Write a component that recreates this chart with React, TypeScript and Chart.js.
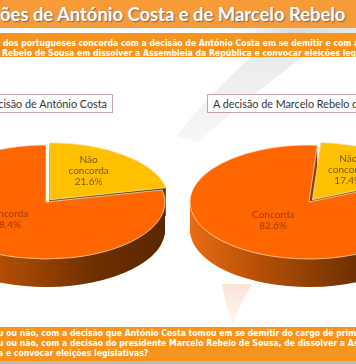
import React, { useEffect, useRef } from 'react';
import { Chart, registerables } from 'chart.js';

Chart.register(...registerables);

// ---------- data ----------
const sliceLabels = ['Não concorda', 'Concorda'];
const costaValues = [21.6, 78.4];
const marceloValues = [17.4, 82.6];
const chartTitles = ['A decisão de António Costa', 'A decisão de Marcelo Rebelo de Sousa'];
const headlineText = 'ões de António Costa e de Marcelo Rebelo';
const subtitleLines = [
  'dos portugueses concorda com a decisão de António Costa em se demitir e com a decisão',
  'Rebelo de Sousa em dissolver a Assembleia da República e convocar eleições legislativas',
];
const questionLines = [
  'u ou não, com a decisão que António Costa tomou em se demitir do cargo de primeiro-ministro?',
  'u ou não, com a decisão do presidente Marcelo Rebelo de Sousa, de dissolver a Assembleia',
  'a e convocar eleições legislativas?',
];

// ---------- styles ----------
const topColors = ['#FFC000', '#FF6600'];
const sideStops: [number, string][][] = [
  [[0, '#9A7800'], [1, '#4C3A00']],
  [[0, '#E86C12'], [0.3, '#B44E06'], [0.7, '#6E3000'], [1, '#5A2600']],
];
const labelColors = ['#7A5A00', '#9E3C06'];

function squashAbout(ctx: CanvasRenderingContext2D, cx: number, cy: number, sq: number) {
  ctx.translate(cx, cy);
  ctx.scale(1, sq);
  ctx.translate(-cx, -cy);
}

function arcPath(ctx: CanvasRenderingContext2D, el: any) {
  const off = (el.options.offset || 0) / 4;
  const h = (el.startAngle + el.endAngle) / 2;
  const ox = el.x + Math.cos(h) * off;
  const oy = el.y + Math.sin(h) * off;
  ctx.beginPath();
  ctx.moveTo(ox, oy);
  ctx.arc(ox, oy, el.outerRadius, el.startAngle, el.endAngle);
  ctx.closePath();
}

const pie3d = {
  id: 'pie3d',
  beforeDatasetsDraw(chart: any, _args: any, opts: any) {
    const ctx: CanvasRenderingContext2D = chart.ctx;
    const meta = chart.getDatasetMeta(0);
    const first = meta.data[0];
    const cx = first.x, cy = first.y;
    meta.data.forEach((el: any, i: number) => {
      const r = el.outerRadius;
      const grad = ctx.createLinearGradient(cx - r, 0, cx + r, 0);
      sideStops[i].forEach(([p, c]) => grad.addColorStop(p, c));
      for (let d = opts.depth; d >= 1; d--) {
        ctx.save();
        ctx.translate(0, d);
        squashAbout(ctx, cx, cy, opts.squash);
        arcPath(ctx, el);
        ctx.fillStyle = grad;
        ctx.fill();
        ctx.restore();
      }
    });
    ctx.save();
    squashAbout(ctx, cx, cy, opts.squash);
  },
  afterDatasetsDraw(chart: any, _args: any, opts: any) {
    const ctx: CanvasRenderingContext2D = chart.ctx;
    ctx.restore();
    const meta = chart.getDatasetMeta(0);
    const values = chart.data.datasets[0].data;
    ctx.save();
    ctx.font = '10px Lato, sans-serif';
    ctx.textAlign = 'center';
    ctx.textBaseline = 'middle';
    meta.data.forEach((el: any, i: number) => {
      const off = (el.options.offset || 0) / 4;
      const h = (el.startAngle + el.endAngle) / 2;
      const rr = el.outerRadius * opts.labelRadius + off;
      const lx = el.x + Math.cos(h) * rr;
      const ly = el.y + Math.sin(h) * rr * opts.squash + opts.labelLift;
      const words = chart.data.labels[i].split(' ');
      const lines = [...words, values[i].toFixed(1) + '%'];
      const lh = 11;
      ctx.fillStyle = labelColors[i];
      lines.forEach((t: string, k: number) => {
        ctx.fillText(t, lx, ly + (k - (lines.length - 1) / 2) * lh);
      });
    });
    ctx.restore();
  },
};

function makeConfig(values: number[], rotation: number): any {
  return {
    type: 'pie',
    data: {
      labels: sliceLabels,
      datasets: [
        {
          data: values,
          backgroundColor: topColors,
          borderColor: '#FFE2C2',
          borderWidth: 1,
          offset: [24, 0],
        },
      ],
    },
    options: {
      responsive: false,
      animation: false,
      events: [],
      radius: 119,
      rotation,
      plugins: {
        legend: { display: false },
        tooltip: { enabled: false },
        pie3d: { squash: 0.479, depth: 28, labelRadius: 0.52, labelLift: -6 },
      },
    },
    plugins: [pie3d],
  };
}

const bandText: React.CSSProperties = {
  position: 'absolute',
  whiteSpace: 'nowrap',
  color: '#fff',
  fontFamily: '"DejaVu Sans Condensed", "DejaVu Sans", sans-serif',
  fontWeight: 'bold',
  fontSize: 8.6,
  lineHeight: '10px',
};

const boxStyle: React.CSSProperties = {
  position: 'absolute',
  top: 94,
  height: 17,
  border: '1px solid #C2A2AE',
  padding: '0 5px',
  whiteSpace: 'nowrap',
  fontSize: 10.8,
  lineHeight: '17px',
  color: '#333',
  background: '#fff',
};

export default function App() {
  const leftRef = useRef<HTMLCanvasElement>(null);
  const rightRef = useRef<HTMLCanvasElement>(null);

  useEffect(() => {
    const c1 = new Chart(leftRef.current as HTMLCanvasElement, makeConfig(costaValues, 0));
    const c2 = new Chart(rightRef.current as HTMLCanvasElement, makeConfig(marceloValues, 4));
    return () => {
      c1.destroy();
      c2.destroy();
    };
  }, []);

  return (
    <div
      style={{
        position: 'fixed',
        left: 0,
        top: 0,
        width: 356,
        height: 364,
        overflow: 'hidden',
        background: '#fff',
        fontFamily: 'Lato, sans-serif',
      }}
    >
      <svg width={356} height={364} style={{ position: 'absolute', left: 0, top: 0 }}>
        <defs>
          <linearGradient id="sw" x1="0" y1="0" x2="0" y2="1">
            <stop offset="0" stopColor="#EBEBEB" />
            <stop offset="1" stopColor="#F7F7F7" />
          </linearGradient>
          <linearGradient id="pk" x1="0" y1="0" x2="0" y2="1">
            <stop offset="0" stopColor="#FAE3D8" />
            <stop offset="1" stopColor="#FFF8F4" />
          </linearGradient>
        </defs>
        <path d="M252 56 L304 56 Q 248 98 198 142 L 176 136 Q 212 92 252 56 Z" fill="url(#sw)" />
        <path d="M222 284 L252 284 Q 240 305 232 326 Q 226 305 222 284 Z" fill="url(#pk)" />
      </svg>

      {/* headline band */}
      <div style={{ position: 'absolute', left: 0, top: 0, width: 356, height: 28, background: '#F79A38' }} />
      <div
        style={{
          position: 'absolute',
          left: 0,
          top: 28,
          width: 356,
          height: 5,
          background: 'linear-gradient(to right, #ffffff 0%, #ffffff 66%, #dcdcdc 82%, #e8e8e8 100%)',
        }}
      />
      <div
        style={{
          position: 'absolute',
          left: 0,
          top: 1,
          whiteSpace: 'nowrap',
          color: '#fff',
          fontWeight: 'bold',
          fontSize: 18.4,
          lineHeight: '26px',
          textShadow: '1px 1px 1px #6b6b6b',
        }}
      >
        {headlineText}
      </div>

      {/* subtitle band */}
      <div style={{ position: 'absolute', left: 0, top: 33, width: 356, height: 24, background: '#F7941E' }} />
      {subtitleLines.map((t, i) => (
        <div key={i} style={{ ...bandText, left: i === 0 ? 3 : 2, top: 38 + i * 10 }}>
          {t}
        </div>
      ))}

      {/* chart titles */}
      <div style={{ ...boxStyle, right: 356 - 113 }}>{chartTitles[0]}</div>
      <div style={{ ...boxStyle, left: 207 }}>{chartTitles[1]}</div>

      <canvas ref={leftRef} width={300} height={300} style={{ position: 'absolute', left: 46 - 150, top: 202 - 150 }} />
      <canvas ref={rightRef} width={300} height={300} style={{ position: 'absolute', left: 309 - 150, top: 202 - 150 }} />

      {/* question band */}
      <div style={{ position: 'absolute', left: 0, top: 327, width: 356, height: 34, background: '#F7941E' }} />
      <div style={{ position: 'absolute', left: 0, top: 361, width: 356, height: 3, background: '#B9B9B9' }} />
      {questionLines.map((t, i) => (
        <div key={i} style={{ ...bandText, left: -2, top: 328 + i * 10 }}>
          {t}
        </div>
      ))}
    </div>
  );
}
